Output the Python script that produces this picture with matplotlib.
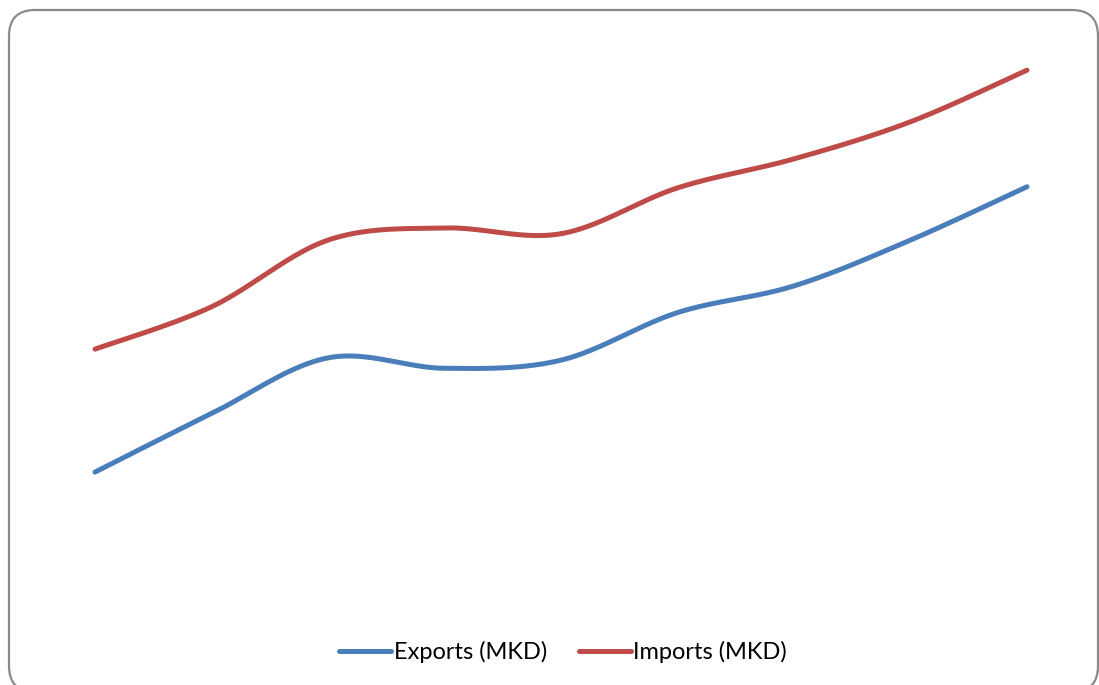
import numpy as np
import matplotlib
matplotlib.use("Agg")
import matplotlib.pyplot as plt
from matplotlib.patches import FancyBboxPatch
from matplotlib.transforms import IdentityTransform

# Yearly trade values (arbitrary units), nine consecutive periods
periods = list(range(9))
exports_mkd = [25.5, 35.6, 45.2, 43.4, 44.8, 53.0, 57.6, 65.5, 74.7]
imports_mkd = [46.7, 54.0, 65.5, 67.6, 66.6, 74.5, 79.5, 85.9, 94.8]
series_labels = ["Exports (MKD)", "Imports (MKD)"]
series_colors = ["#4A7EBB", "#BE4B48"]


def smooth(xs, ys, steps=40):
    """Piecewise cubic Bezier through the points (Catmull-Rom style tangents)."""
    x = np.asarray(xs, float)
    y = np.asarray(ys, float)
    xp = np.concatenate([[x[0]], x, [x[-1]]])
    yp = np.concatenate([[y[0]], y, [y[-1]]])
    out_x, out_y = [], []
    t = np.linspace(0, 1, steps)
    for i in range(len(x) - 1):
        p0 = np.array([x[i], y[i]])
        p3 = np.array([x[i + 1], y[i + 1]])
        c1 = p0 + (np.array([xp[i + 2], yp[i + 2]]) - np.array([xp[i], yp[i]])) / 6
        c2 = p3 - (np.array([xp[i + 3], yp[i + 3]]) - np.array([xp[i + 1], yp[i + 1]])) / 6
        pts = ((1 - t) ** 3)[:, None] * p0 + (3 * (1 - t) ** 2 * t)[:, None] * c1 \
            + (3 * (1 - t) * t ** 2)[:, None] * c2 + (t ** 3)[:, None] * p3
        if i > 0:
            pts = pts[1:]
        out_x.extend(pts[:, 0])
        out_y.extend(pts[:, 1])
    return np.array(out_x), np.array(out_y)


plt.rcParams["font.family"] = ["Lato", "DejaVu Sans"]

W, H = 1099, 685
fig = plt.figure(figsize=(W / 100, H / 100), dpi=100)
fig.patch.set_facecolor("white")

# Rounded chart frame (in pixels), kept behind the plot
frame = FancyBboxPatch((9, H - 692), 1089, 682,
                       boxstyle="round,pad=0,rounding_size=26",
                       transform=IdentityTransform(),
                       facecolor="white", edgecolor="#8a8a8a", linewidth=1.6,
                       zorder=-5)
fig.patches.append(frame)

# Plot area: category centres from x=95 to x=1027 px; value 0..100 -> y 620..40 px
left = 36.75 / W
right = 1085.25 / W
bottom = (H - 620) / H
top = (H - 40) / H
ax = fig.add_axes([left, bottom, right - left, top - bottom])
ax.set_zorder(2)
ax.patch.set_visible(False)
ax.set_xlim(-0.5, 8.5)
ax.set_ylim(0, 100)
ax.axis("off")

for vals, lab, col in zip([exports_mkd, imports_mkd], series_labels, series_colors):
    sx, sy = smooth(periods, vals)
    ax.plot(sx, sy, color=col, lw=3.6, solid_capstyle="round", label=lab)

leg = fig.legend(loc="center", bbox_to_anchor=(563 / W, 1 - 652 / H), ncol=2,
                 frameon=False, fontsize=17, handlelength=2.2, handletextpad=0.1,
                 columnspacing=1.35)
leg.set_zorder(3)
for line in leg.get_lines():
    line.set_linewidth(3.6)

fig.savefig("out.png", dpi=100, facecolor="white")
